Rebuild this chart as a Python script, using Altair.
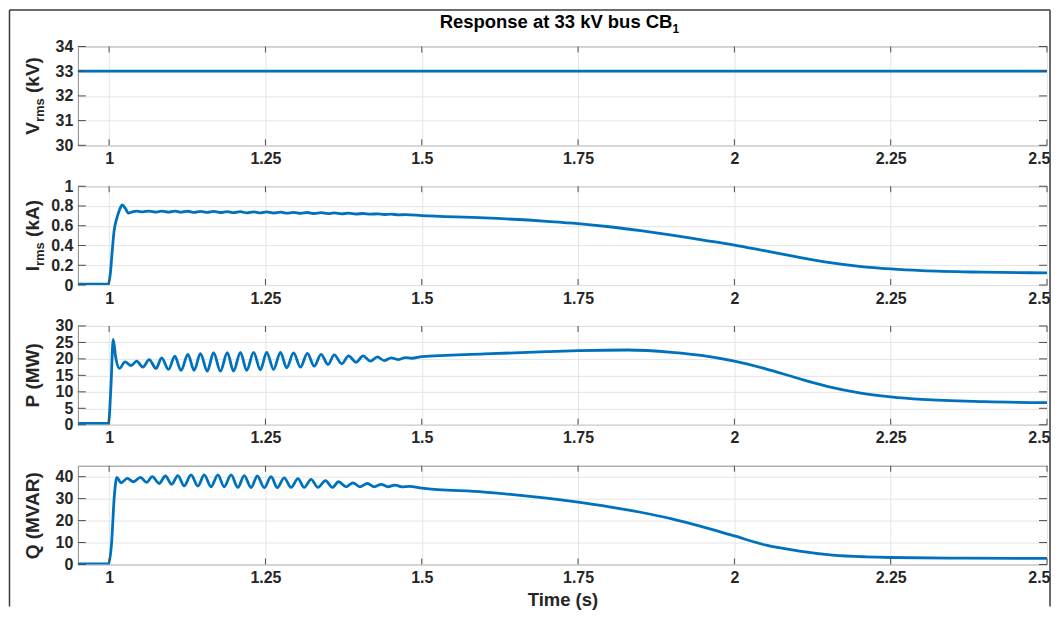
import altair as alt
import pandas as pd

# ---------------- data ----------------
TITLE_MAIN = "Response at 33 kV bus CB"
TITLE_SUB = "1"
X_TITLE = "Time (s)"
X_DOMAIN = [0.95, 2.5]
X_TICKS = [1, 1.25, 1.5, 1.75, 2, 2.25, 2.5]

v_time = [0.95, 2.5]
v_kv = [33.0, 33.0]
v_ticks = [30, 31, 32, 33, 34]

i_time = [0.95, 0.999, 1.002, 1.005, 1.008, 1.012, 1.016, 1.021, 1.026, 1.031,
          1.036, 1.044, 1.054, 1.064, 1.075, 1.084, 1.095, 1.105, 1.115, 1.126,
          1.136, 1.146, 1.157, 1.167, 1.178, 1.189, 1.199, 1.21, 1.22, 1.231,
          1.242, 1.252, 1.263, 1.274, 1.284, 1.295, 1.306, 1.317, 1.328, 1.339,
          1.35, 1.36, 1.372, 1.383, 1.395, 1.406, 1.418, 1.429, 1.44, 1.451,
          1.463, 1.474, 1.5, 1.6, 1.7, 1.75, 1.8, 1.85, 1.9, 1.95,
          2.0, 2.05, 2.1, 2.15, 2.2, 2.25, 2.3, 2.4, 2.5]
i_ka = [0.01, 0.01, 0.12, 0.35, 0.55, 0.67, 0.75, 0.81, 0.775, 0.728,
        0.738, 0.748, 0.740, 0.749, 0.739, 0.748, 0.738, 0.748, 0.737, 0.747,
        0.736, 0.746, 0.735, 0.745, 0.734, 0.744, 0.733, 0.743, 0.731, 0.741,
        0.730, 0.740, 0.729, 0.738, 0.727, 0.736, 0.726, 0.734, 0.724, 0.732,
        0.723, 0.730, 0.721, 0.727, 0.719, 0.724, 0.717, 0.721, 0.714, 0.717,
        0.711, 0.712, 0.703, 0.68, 0.645, 0.622, 0.59, 0.55, 0.505, 0.455,
        0.405, 0.345, 0.285, 0.23, 0.19, 0.163, 0.145, 0.13, 0.123]
i_ticks = [0, 0.2, 0.4, 0.6, 0.8, 1]

p_time = [0.95, 0.999, 1.003, 1.0065, 1.0105, 1.0165, 1.0255, 1.035, 1.044, 1.054,
          1.064, 1.075, 1.084, 1.095, 1.105, 1.115, 1.126, 1.136, 1.146, 1.157,
          1.167, 1.178, 1.189, 1.199, 1.21, 1.22, 1.231, 1.242, 1.252, 1.263,
          1.274, 1.284, 1.295, 1.306, 1.317, 1.328, 1.339, 1.35, 1.36, 1.372,
          1.383, 1.395, 1.406, 1.418, 1.429, 1.44, 1.451, 1.463, 1.474, 1.484,
          1.5, 1.6, 1.7, 1.75, 1.83, 1.9, 1.95, 2.0, 2.05, 2.1,
          2.15, 2.2, 2.25, 2.3, 2.4, 2.5]
p_mw = [0.4, 0.4, 12.0, 25.9, 20.5, 17.1, 19.1, 18.0, 19.3, 17.5,
        19.8, 17.1, 20.3, 16.8, 20.8, 16.5, 21.4, 16.5, 21.6, 16.3,
        21.9, 16.3, 21.9, 16.3, 22.0, 16.5, 22.0, 16.7, 22.0, 16.8,
        22.0, 17.3, 21.8, 17.5, 21.7, 17.8, 21.4, 18.3, 21.2, 18.5,
        20.9, 19.0, 20.9, 19.3, 20.6, 19.5, 20.3, 19.8, 20.4, 20.2,
        20.7, 21.5, 22.2, 22.5, 22.7, 22.0, 21.0, 19.3, 17.0, 14.2,
        11.6, 9.7, 8.5, 7.7, 7.0, 6.7]
p_ticks = [0, 5, 10, 15, 20, 25, 30]

q_time = [0.95, 0.999, 1.004, 1.008, 1.0125, 1.019, 1.029, 1.039, 1.05, 1.06,
          1.069, 1.08, 1.09, 1.1, 1.11, 1.12, 1.131, 1.142, 1.152, 1.163,
          1.174, 1.184, 1.195, 1.206, 1.216, 1.227, 1.237, 1.248, 1.259, 1.269,
          1.28, 1.291, 1.302, 1.312, 1.323, 1.334, 1.346, 1.357, 1.367, 1.379,
          1.39, 1.401, 1.413, 1.424, 1.435, 1.446, 1.457, 1.468, 1.48, 1.5,
          1.6, 1.7, 1.75, 1.8, 1.85, 1.9, 1.945, 2.0, 2.051, 2.104,
          2.157, 2.21, 2.25, 2.37, 2.5]
q_mvar = [0.3, 0.3, 10.0, 30.0, 39.7, 37.2, 39.2, 37.7, 39.7, 37.4,
          40.0, 36.9, 40.3, 36.5, 40.5, 35.8, 40.8, 35.7, 40.8, 35.4,
          40.8, 35.4, 40.8, 35.1, 40.5, 35.0, 40.3, 35.0, 40.0, 35.0,
          39.5, 35.1, 39.1, 35.1, 38.8, 35.1, 38.2, 35.1, 37.7, 35.4,
          37.2, 35.4, 36.9, 35.4, 36.5, 35.4, 36.2, 35.4, 35.6, 34.8,
          33.0, 30.2, 28.4, 26.3, 23.8, 20.8, 17.5, 13.0, 8.8, 6.1,
          4.3, 3.5, 3.2, 2.9, 2.75]
q_ticks = [0, 10, 20, 30, 40]

# y-axis labels: (text, is_subscript)
V_LABEL = [("V", False), ("rms", True), ("(kV)", False)]
I_LABEL = [("I", False), ("rms", True), ("(kA)", False)]
P_LABEL = [("P", False), ("(MW)", False)]
Q_LABEL = [("Q", False), ("(MVAR)", False)]

# ---------------- style ----------------
W, H = 971, 99
GAP = 41
BLUE = "#0072BD"
FONT = "Liberation Sans"
TXT = "#262626"
TICK_C = "#4d4d4d"
MAIN_SZ = 19
SUB_SZ = 13
TITLE_SZ = 18.5

ARIAL_BOLD = {" ": 278, "(": 333, ")": 333, ".": 278, "A": 722, "B": 722, "C": 722,
              "I": 278, "M": 833, "P": 667, "Q": 778, "R": 722, "V": 667, "W": 944,
              "a": 556, "b": 611, "e": 556, "k": 556, "m": 889, "n": 611, "o": 611,
              "p": 611, "r": 389, "s": 556, "t": 333, "u": 611}
for d in "0123456789":
    ARIAL_BOLD[d] = 556


def tw(s, size):
    return sum(ARIAL_BOLD.get(c, 556) for c in s) / 1000.0 * size


one = pd.DataFrame({"a": [0]})


def ylabel_layers(parts):
    items = []
    pos = 0.0
    for k, (txt, sub) in enumerate(parts):
        size = SUB_SZ if sub else MAIN_SZ
        if k > 0 and not sub:
            pos += tw(" ", MAIN_SZ)
        items.append((txt, size, pos, 5 if sub else 0))
        pos += tw(txt, size)
    total = pos
    layers = []
    for txt, size, start, dy in items:
        layers.append(
            alt.Chart(one).mark_text(
                text=txt, font=FONT, fontWeight="bold", fontSize=size, color=TXT,
                angle=270, align="left", baseline="alphabetic",
                dx=start - total / 2, dy=dy,
            ).encode(x=alt.value(-39), y=alt.value(H / 2))
        )
    return layers


def panel(time, vals, ydomain, yticks, label_parts, last=False, first=False):
    df = pd.DataFrame({"t": time, "v": vals})
    x_enc = alt.X(
        "t:Q",
        scale=alt.Scale(domain=X_DOMAIN, nice=False, zero=False),
        axis=alt.Axis(values=X_TICKS, format=".3~r", title=X_TITLE if last else None,
                      labelOverlap=False, labelFlush=True, labelFlushOffset=3),
    )
    y_enc = alt.Y(
        "v:Q",
        scale=alt.Scale(domain=ydomain, nice=False, zero=False),
        axis=alt.Axis(values=yticks, format=".3~r", title=None, labelOverlap=False,
                      labelFlush=False),
    )
    line = alt.Chart(df).mark_line(
        color=BLUE, strokeWidth=2.8, interpolate="monotone", clip=True
    ).encode(x=x_enc, y=y_enc)

    xt = pd.DataFrame({"t": X_TICKS})
    yt = pd.DataFrame({"v": yticks})
    rule = dict(color=TICK_C, strokeWidth=1)
    bottom = alt.Chart(xt).mark_rule(**rule).encode(x=x_enc, y=alt.value(H), y2=alt.value(H - 6))
    top = alt.Chart(xt).mark_rule(**rule).encode(x=x_enc, y=alt.value(0), y2=alt.value(6))
    left = alt.Chart(yt).mark_rule(**rule).encode(y=y_enc, x=alt.value(0), x2=alt.value(8))
    right = alt.Chart(yt).mark_rule(**rule).encode(y=y_enc, x=alt.value(W - 8), x2=alt.value(W))

    layers = [line, bottom, top, left, right] + ylabel_layers(label_parts)

    if first:
        w_main = tw(TITLE_MAIN, TITLE_SZ)
        w_sub = tw(TITLE_SUB, 12)
        start = W / 2 - (w_main + w_sub) / 2 - 3
        layers.append(
            alt.Chart(one).mark_text(
                text=TITLE_MAIN, font=FONT, fontWeight="bold", fontSize=TITLE_SZ,
                color="black", align="left", baseline="alphabetic",
            ).encode(x=alt.value(start), y=alt.value(-19))
        )
        layers.append(
            alt.Chart(one).mark_text(
                text=TITLE_SUB, font=FONT, fontWeight="bold", fontSize=12,
                color="black", align="left", baseline="alphabetic",
            ).encode(x=alt.value(start + w_main), y=alt.value(-14))
        )
        border = dict(color="#3a3a3a", strokeWidth=1.5)
        bottom_y = 4 * H + 3 * GAP + 42
        layers.append(alt.Chart(one).mark_rule(**border).encode(
            x=alt.value(-68.5), y=alt.value(-36.5), y2=alt.value(bottom_y)))
        layers.append(alt.Chart(one).mark_rule(**border).encode(
            x=alt.value(974), y=alt.value(-36.5), y2=alt.value(bottom_y)))
        layers.append(alt.Chart(one).mark_rule(**border).encode(
            x=alt.value(-68.5), x2=alt.value(974), y=alt.value(-36.5)))

    return alt.layer(*layers).properties(width=W, height=H)


p1 = panel(v_time, v_kv, [30, 34], v_ticks, V_LABEL, first=True)
p2 = panel(i_time, i_ka, [0, 1], i_ticks, I_LABEL)
p3 = panel(p_time, p_mw, [0, 30], p_ticks, P_LABEL)
p4 = panel(q_time, q_mvar, [0, 45], q_ticks, Q_LABEL, last=True)

chart = (
    alt.vconcat(p1, p2, p3, p4, spacing=GAP, bounds="flush")
    .properties(padding=0, background="white")
    .configure_view(stroke="#8a8a8a", strokeWidth=1)
    .configure_axis(
        grid=True, gridColor="#e4e4e4", gridWidth=1, domain=False, ticks=False,
        labelFont=FONT, labelFontSize=16, labelFontWeight="bold", labelColor=TXT,
        labelPadding=5, titleFont=FONT, titleFontSize=TITLE_SZ, titleFontWeight="bold",
        titleColor=TXT, titlePadding=5,
    )
)

chart.save("out.html", embed_options={"renderer": "svg", "actions": False})
